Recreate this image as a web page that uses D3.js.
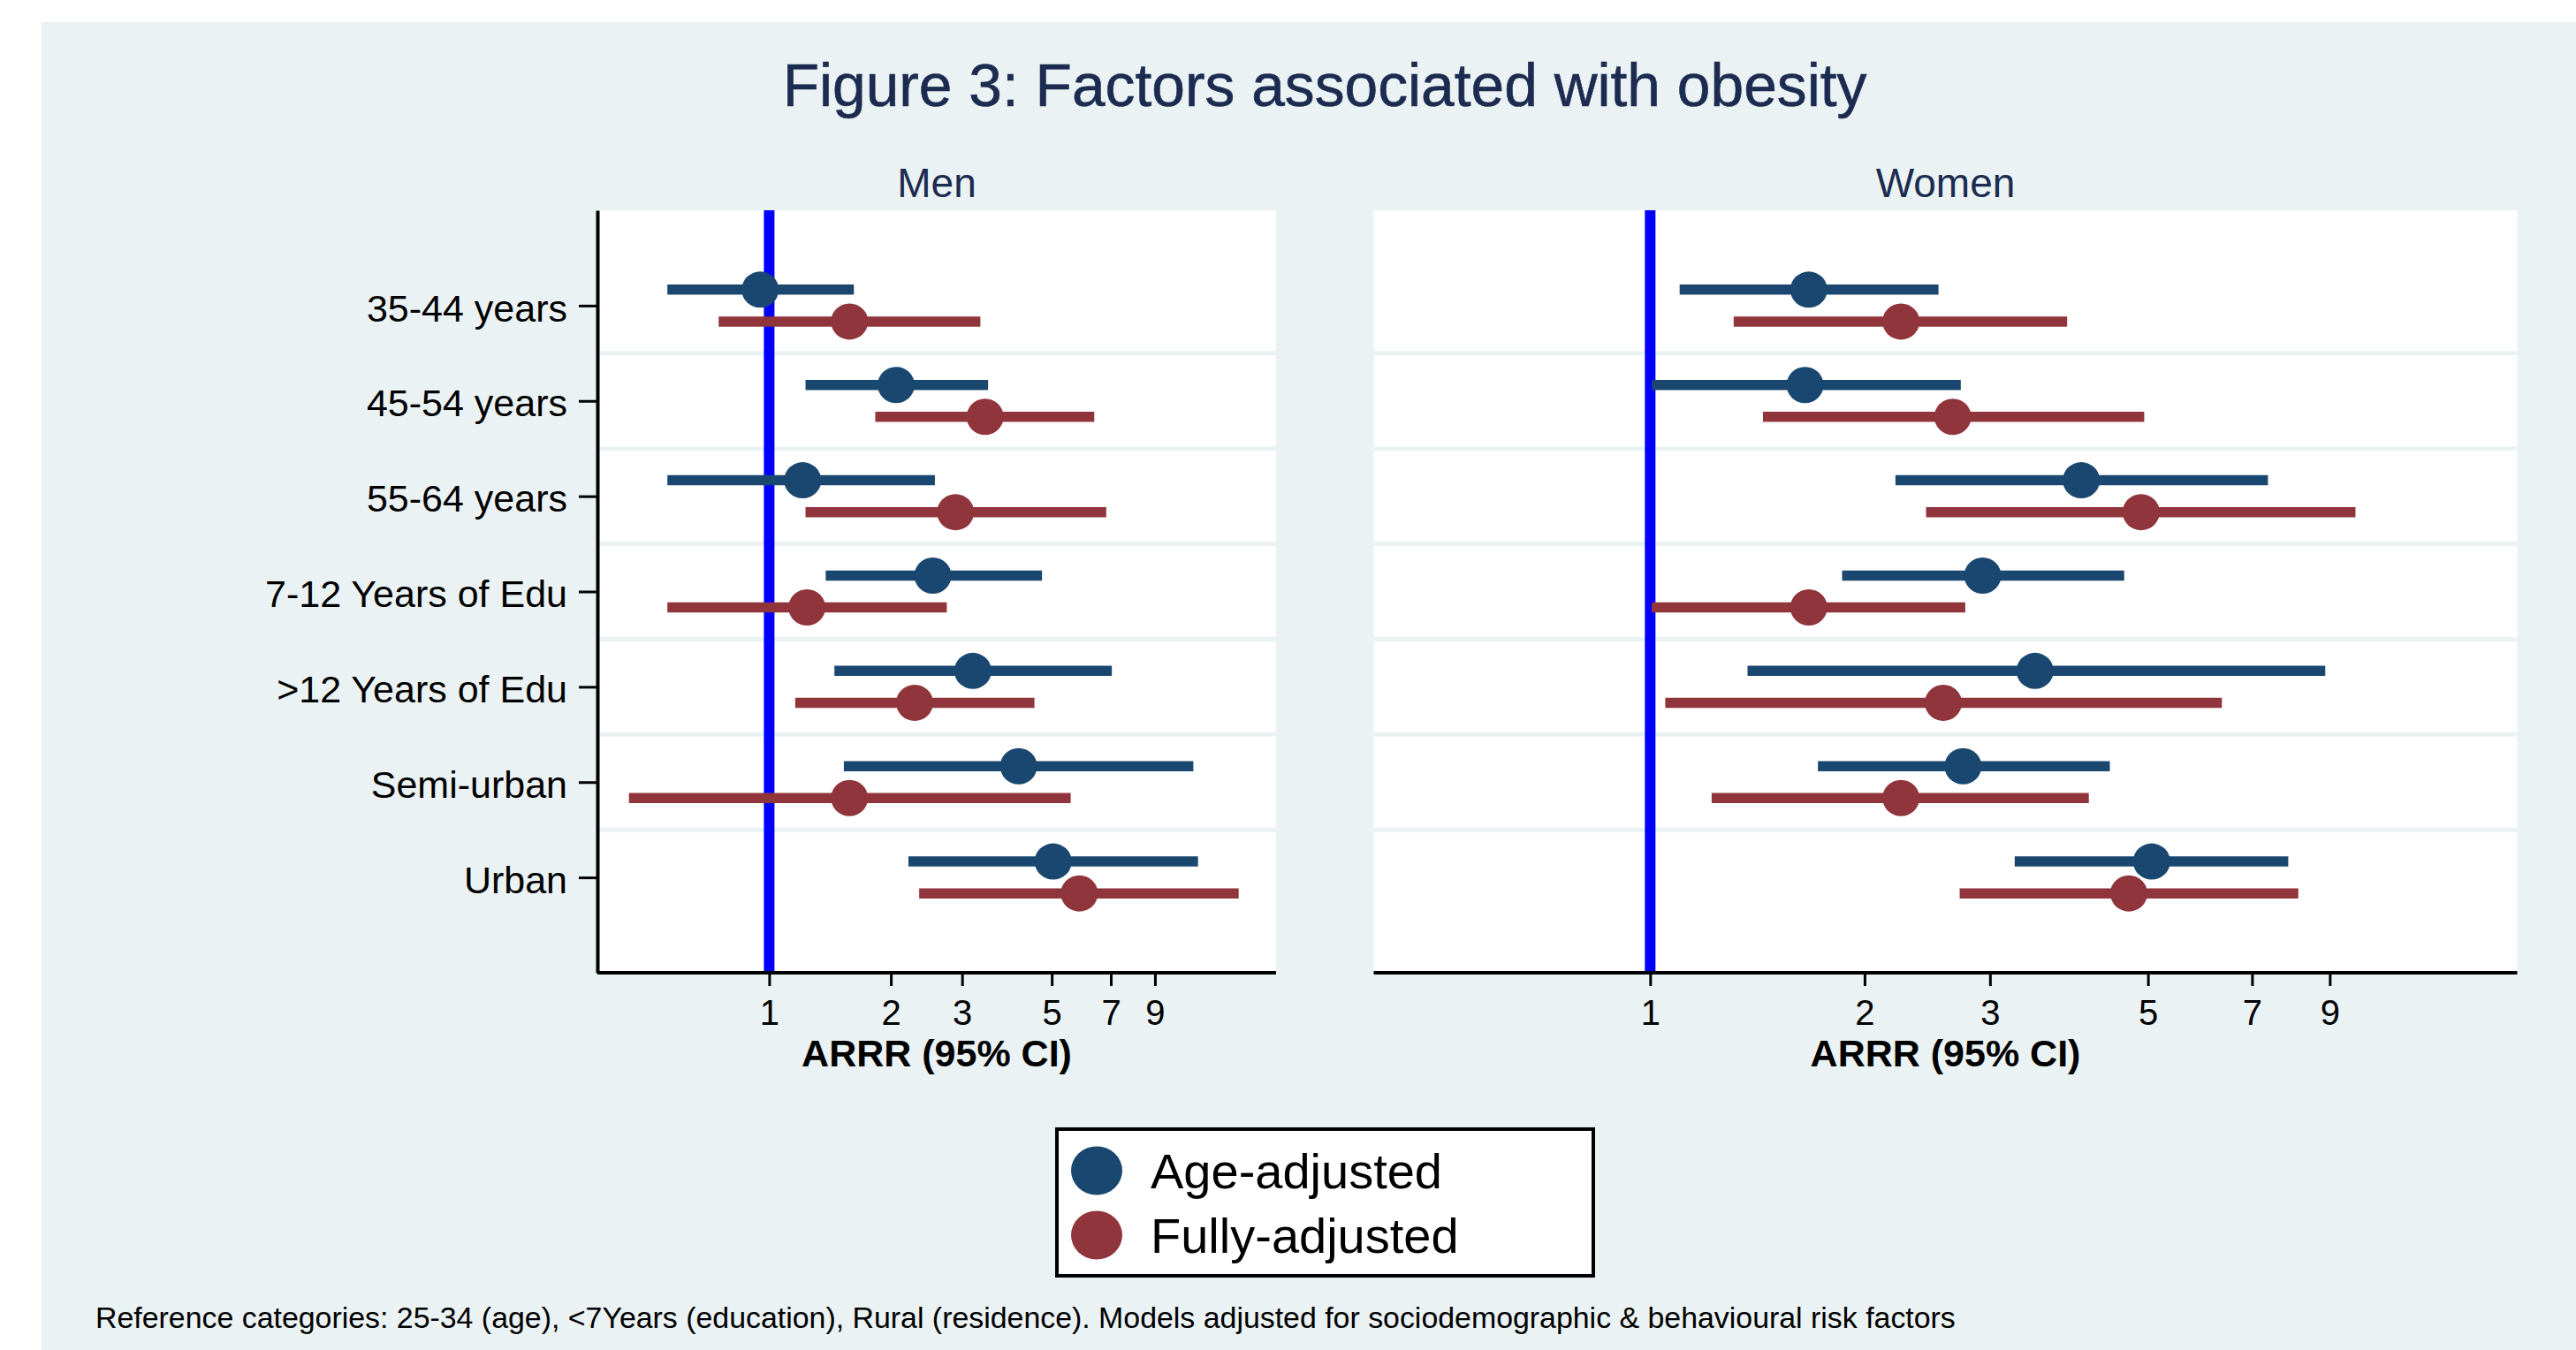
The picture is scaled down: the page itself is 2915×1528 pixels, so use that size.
<!DOCTYPE html>
<html>
<head>
<meta charset="utf-8">
<script src="https://cdnjs.cloudflare.com/ajax/libs/d3/7.8.5/d3.min.js"></script>
<style>
  html, body { margin: 0; padding: 0; background: #ffffff; }
  svg { display: block; }
</style>
</head>
<body>
<script>
// ---------------- DATA ----------------
const categories = ["35-44 years", "45-54 years", "55-64 years", "7-12 Years of Edu", ">12 Years of Edu", "Semi-urban", "Urban"];
const seriesNames = ["Age-adjusted", "Fully-adjusted"];
const panelNames = ["Men", "Women"];
const xTickValues = [1, 2, 3, 5, 7, 9];

const menAgeEst  = [0.95, 2.06, 1.21, 2.54, 3.19, 4.14, 5.04];
const menAgeLo   = [0.56, 1.23, 0.56, 1.38, 1.45, 1.53, 2.21];
const menAgeHi   = [1.62, 3.48, 2.57, 4.73, 7.04, 11.2, 11.5];
const menFullEst = [1.58, 3.42, 2.89, 1.24, 2.29, 1.58, 5.85];
const menFullLo  = [0.75, 1.83, 1.23, 0.56, 1.16, 0.45, 2.35];
const menFullHi  = [3.33, 6.37, 6.82, 2.75, 4.53, 5.57, 14.5];

const womenAgeEst  = [1.67, 1.65, 4.03, 2.93, 3.47, 2.75, 5.06];
const womenAgeLo   = [1.10, 1.005, 2.21, 1.86, 1.37, 1.72, 3.25];
const womenAgeHi   = [2.54, 2.73, 7.37, 4.63, 8.87, 4.42, 7.87];
const womenFullEst = [2.25, 2.66, 4.89, 1.67, 2.58, 2.25, 4.70];
const womenFullLo  = [1.31, 1.44, 2.44, 1.005, 1.05, 1.22, 2.72];
const womenFullHi  = [3.85, 4.94, 9.78, 2.77, 6.35, 4.13, 8.13];

const refValue = 1;

const titleText = "Figure 3: Factors associated with obesity";
const xTitleText = "ARRR (95% CI)";
const noteText = "Reference categories: 25-34 (age), <7Years (education), Rural (residence). Models adjusted for sociodemographic & behavioural risk factors";

// ---------------- LAYOUT / STYLE ----------------
const W = 2915, H = 1528;
const FONT = "'Liberation Sans', Arial, Helvetica, sans-serif";
const BG = "#eaf2f3";
const NAVY = "#1c2b50";
const seriesColors = ["#1a476f", "#90353b"];
const seriesOffset = [-0.167, 0.167];

const plotTop = 238, plotBottom = 1101;
const panels = [
  { name: panelNames[0], x0: 676, x1: 1444, domain: [0.3759, 17.94], yAxis: true,
    series: [[menAgeEst, menAgeLo, menAgeHi], [menFullEst, menFullLo, menFullHi]] },
  { name: panelNames[1], x0: 1554.5, x1: 2848.5, domain: [0.4091, 16.50], yAxis: false,
    series: [[womenAgeEst, womenAgeLo, womenAgeHi], [womenFullEst, womenFullLo, womenFullHi]] }
];

const svg = d3.select("body").append("svg").attr("width", W).attr("height", H);

// outer background (with white margin top/left as in the reference)
svg.append("rect").attr("x", 0).attr("y", 0).attr("width", W).attr("height", H).attr("fill", "#ffffff");
svg.append("rect").attr("x", 47).attr("y", 25).attr("width", W - 47).attr("height", H - 25).attr("fill", BG);

function fitText(sel, target) {
  const node = sel.node();
  const len = node.getComputedTextLength();
  if (len > 0) {
    const fs = parseFloat(sel.attr("font-size"));
    sel.attr("font-size", fs * target / len);
  }
}

// title
const title = svg.append("text")
  .attr("x", 1499).attr("y", 120)
  .attr("text-anchor", "middle")
  .attr("font-family", FONT).attr("font-size", 60)
  .attr("fill", NAVY).attr("stroke", NAVY).attr("stroke-width", 0.6)
  .text(titleText);
fitText(title, 1227);

const y = d3.scaleLinear().domain([0, 8]).range([plotTop, plotBottom]);

panels.forEach(p => {
  const x = d3.scaleLog().domain(p.domain).range([p.x0, p.x1]);
  const g = svg.append("g");

  // plot region
  g.append("rect")
    .attr("x", p.x0).attr("y", plotTop)
    .attr("width", p.x1 - p.x0).attr("height", plotBottom - plotTop)
    .attr("fill", "#ffffff");

  // horizontal grid between categories
  g.selectAll("line.grid")
    .data(d3.range(1.5, categories.length, 1))
    .join("line")
    .attr("class", "grid")
    .attr("x1", p.x0).attr("x2", p.x1)
    .attr("y1", d => y(d)).attr("y2", d => y(d))
    .attr("stroke", BG).attr("stroke-width", 5);

  // reference line at 1
  g.append("line")
    .attr("x1", x(refValue)).attr("x2", x(refValue))
    .attr("y1", plotTop).attr("y2", plotBottom)
    .attr("stroke", "#0000ff").attr("stroke-width", 12);

  // panel subtitle
  g.append("text")
    .attr("x", (p.x0 + p.x1) / 2).attr("y", 223)
    .attr("text-anchor", "middle")
    .attr("font-family", FONT).attr("font-size", 46)
    .attr("fill", NAVY)
    .text(p.name);

  // series
  p.series.forEach((s, si) => {
    const [est, lo, hi] = s;
    const rows = categories.map((c, i) => ({ i: i + 1, est: est[i], lo: lo[i], hi: hi[i] }));
    const sg = g.append("g");
    sg.selectAll("line.ci")
      .data(rows)
      .join("line")
      .attr("class", "ci")
      .attr("x1", d => x(d.lo)).attr("x2", d => x(d.hi))
      .attr("y1", d => y(d.i + seriesOffset[si])).attr("y2", d => y(d.i + seriesOffset[si]))
      .attr("stroke", seriesColors[si]).attr("stroke-width", 11.5)
      .attr("stroke-linecap", "butt");
    sg.selectAll("ellipse.pt")
      .data(rows)
      .join("ellipse")
      .attr("class", "pt")
      .attr("cx", d => x(d.est)).attr("cy", d => y(d.i + seriesOffset[si]))
      .attr("rx", 21).attr("ry", 20.5)
      .attr("fill", seriesColors[si]);
  });

  // x axis
  const xAxis = d3.axisBottom(x)
    .tickValues(xTickValues)
    .tickFormat(d3.format("d"))
    .tickSize(15).tickSizeOuter(0).tickPadding(16);
  const xg = g.append("g").attr("transform", `translate(0,${plotBottom})`).call(xAxis);
  xg.select(".domain").attr("stroke", "#000").attr("stroke-width", 4)
    .attr("d", `M${p.x0},0H${p.x1}`);
  xg.selectAll(".tick line").attr("stroke", "#000").attr("stroke-width", 3);
  xg.selectAll(".tick text")
    .attr("font-family", FONT).attr("font-size", 40).attr("fill", "#000")
    .attr("dy", "0.71em");

  // x axis title
  g.append("text")
    .attr("x", (p.x0 + p.x1) / 2).attr("y", 1207)
    .attr("text-anchor", "middle")
    .attr("font-family", FONT).attr("font-size", 43).attr("font-weight", "bold")
    .attr("fill", "#000")
    .text(xTitleText);

  // y axis (left panel only)
  if (p.yAxis) {
    const yAxis = d3.axisLeft(y)
      .tickValues(d3.range(1, categories.length + 1))
      .tickFormat(d => categories[d - 1])
      .tickSize(21).tickSizeOuter(0).tickPadding(13);
    const yg = g.append("g").attr("transform", `translate(${p.x0},0)`).call(yAxis);
    yg.select(".domain").attr("stroke", "#000").attr("stroke-width", 4);
    yg.selectAll(".tick line").attr("stroke", "#000").attr("stroke-width", 3);
    yg.selectAll(".tick text")
      .attr("font-family", FONT).attr("font-size", 43).attr("fill", "#000")
      .attr("dy", "0.4em");
  }
});

// legend
const lg = svg.append("g");
lg.append("rect")
  .attr("x", 1196).attr("y", 1278).attr("width", 607).attr("height", 166)
  .attr("fill", "#ffffff").attr("stroke", "#000").attr("stroke-width", 4);
const legendRows = [1325, 1398];
seriesNames.forEach((name, i) => {
  lg.append("ellipse")
    .attr("cx", 1241).attr("cy", legendRows[i])
    .attr("rx", 29).attr("ry", 27.5)
    .attr("fill", seriesColors[i]);
  lg.append("text")
    .attr("x", 1302).attr("y", legendRows[i] + 20)
    .attr("font-family", FONT).attr("font-size", 56).attr("fill", "#000")
    .text(name);
});

// footnote
const note = svg.append("text")
  .attr("x", 108).attr("y", 1503)
  .attr("font-family", FONT).attr("font-size", 30).attr("fill", "#000")
  .text(noteText);
fitText(note, 2106);
</script>
</body>
</html>
